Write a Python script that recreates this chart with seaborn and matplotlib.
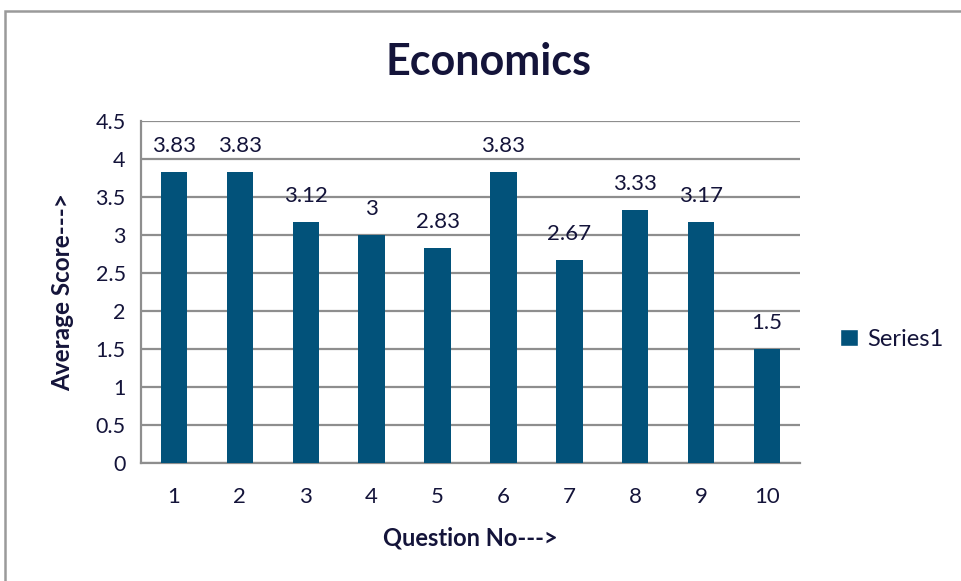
import pandas as pd
import seaborn as sns
import matplotlib.pyplot as plt
from matplotlib.patches import Rectangle, Patch
from matplotlib.ticker import FixedLocator

questions = ["1", "2", "3", "4", "5", "6", "7", "8", "9", "10"]
scores = [3.83, 3.83, 3.17, 3.0, 2.83, 3.83, 2.67, 3.33, 3.17, 1.5]
score_labels = ["3.83", "3.83", "3.12", "3", "2.83", "3.83", "2.67", "3.33", "3.17", "1.5"]
y_ticks = [0, 0.5, 1, 1.5, 2, 2.5, 3, 3.5, 4, 4.5]
y_tick_labels = ["0", "0.5", "1", "1.5", "2", "2.5", "3", "3.5", "4", "4.5"]

bar_col = "#02527A"
text_col = "#14143a"
line_col = "#8e8e8e"

sns.set_style("white")
plt.rcParams["font.family"] = ["Lato", "DejaVu Sans"]

df = pd.DataFrame({"question": questions, "score": scores})

fig = plt.figure(figsize=(9.61, 5.81), dpi=100)
ax = fig.add_axes([0.1467, 0.2031, 0.8325 - 0.1467, 0.7917 - 0.2031])

sns.barplot(data=df, x="question", y="score", color=bar_col, width=0.4,
            saturation=1, linewidth=0, ax=ax, zorder=3)
ax.bar_label(ax.containers[0], labels=score_labels, padding=11.5,
             fontsize=16, color=text_col, zorder=4)

ax.set_xlim(-0.5, len(questions) - 0.5)
ax.set_ylim(0, 4.5)
ax.set_yticks(y_ticks)
ax.set_yticklabels(y_tick_labels)
ax.yaxis.grid(True, color=line_col, linewidth=1.6, zorder=1)
ax.set_axisbelow(True)

# tick marks between categories, labels at the centre
ax.xaxis.set_minor_locator(FixedLocator([i - 0.5 for i in range(len(questions) + 1)]))
ax.tick_params(axis="x", which="major", length=0, pad=17, labelsize=16, labelcolor=text_col)
ax.tick_params(axis="x", which="minor", length=7, width=1.6, color=line_col, direction="out")
ax.tick_params(axis="y", length=7, width=1.6, color=line_col, direction="out",
               labelsize=15.5, labelcolor=text_col, pad=4)

for side in ["top", "right"]:
    ax.spines[side].set_visible(False)
for side in ["left", "bottom"]:
    ax.spines[side].set_color(line_col)
    ax.spines[side].set_linewidth(1.6)

ax.set_xlabel("Question No--->", fontsize=17, fontweight="bold", color=text_col, labelpad=14)
ax.set_ylabel("Average Score--->", fontsize=17.5, fontweight="bold", color=text_col, labelpad=15)

fig.text(0.508, 0.893, "Economics", ha="center", va="center", fontsize=31,
         fontweight="bold", color=text_col)

leg = fig.legend(handles=[Patch(facecolor=bar_col, label="Series1")],
                 loc="center left", bbox_to_anchor=(0.852, 0.416), frameon=False,
                 fontsize=17, handlelength=0.75, handleheight=0.75, handletextpad=0.4,
                 labelcolor=text_col)

# chart border (left and top edge visible)
fig.add_artist(Rectangle((4.5 / 961, -0.2), 1.5, 1.2 - 10.5 / 581,
                         transform=fig.transFigure, fill=False,
                         edgecolor="#9a9a9a", linewidth=1.8))

fig.savefig("out.png", dpi=100)
